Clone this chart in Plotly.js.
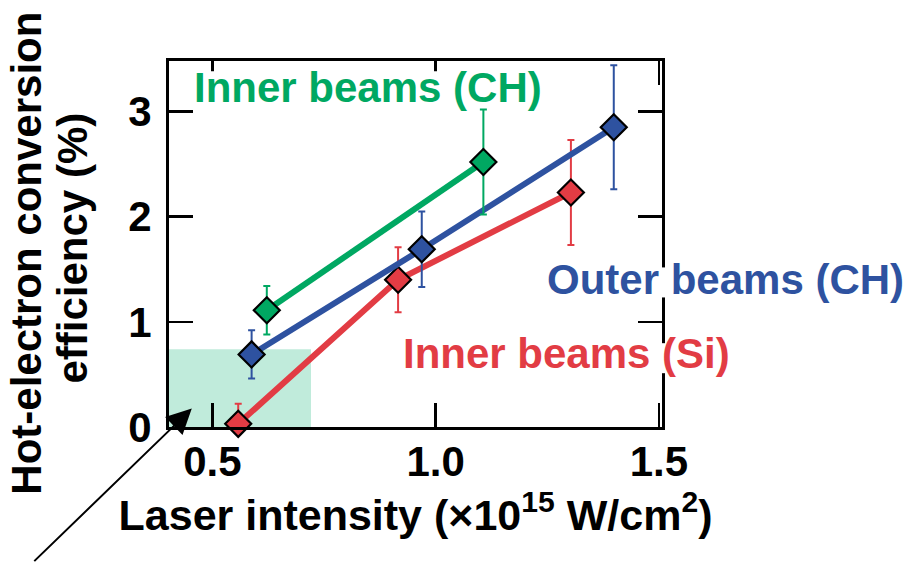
<!DOCTYPE html>
<html>
<head>
<meta charset="utf-8">
<script src="https://cdn.plot.ly/plotly-3.0.1.min.js"></script>
<style>html,body{margin:0;padding:0;background:#fff;}#chart{width:907px;height:564px;}</style>
</head>
<body>
<div id="chart"></div>
<script>
// Data
const innerCH_x = [0.622, 1.107];
const innerCH_y = [1.11, 2.52];
const innerCH_err = [0.23, 0.50];

const outerCH_x = [0.588, 0.969, 1.399];
const outerCH_y = [0.69, 1.69, 2.85];
const outerCH_err = [0.23, 0.36, 0.59];

const innerSi_x = [0.558, 0.916, 1.303];
const innerSi_y = [0.03, 1.40, 2.23];
const innerSi_err = [0.19, 0.31, 0.50];

const xTicks = [0.5, 1.0, 1.5];
const xTickText = ['0.5', '1.0', '1.5'];
const yTicks = [0, 1, 2, 3];
const yTickText = ['0', '1', '2', '3'];

const seriesNames = ['Inner beams (Si)', 'Outer beams (CH)', 'Inner beams (CH)'];

const RED = '#e23c44', BLUE = '#2e52a0', GREEN = '#00a862';
const FONT = 'Liberation Sans, Arial, Helvetica, sans-serif';

function trace(x, y, err, color, name) {
  return {
    x: x, y: y, name: name, type: 'scatter', mode: 'lines+markers',
    line: {color: color, width: 6},
    marker: {symbol: 'diamond', size: 20, color: color, line: {color: '#000', width: 2.2}},
    error_y: {type: 'data', array: err, visible: true, color: color, thickness: 2, width: 3.5},
    cliponaxis: false, showlegend: false
  };
}

const data = [
  trace(innerSi_x, innerSi_y, innerSi_err, RED, seriesNames[0]),
  trace(outerCH_x, outerCH_y, outerCH_err, BLUE, seriesNames[1]),
  trace(innerCH_x, innerCH_y, innerCH_err, GREEN, seriesNames[2])
];

const axisCommon = {
  ticks: 'inside', ticklen: 24, tickwidth: 2.5, tickcolor: '#000',
  showline: true, linewidth: 3, linecolor: '#000', mirror: 'ticks',
  showgrid: false, zeroline: false,
  tickfont: {family: FONT, size: 42, color: '#000', weight: 'bold'}
};

// white masks where the labels interrupt the frame / ticks
function mask(x0, x1, y0, y1) {
  return {type: 'rect', xref: 'paper', yref: 'paper', x0: x0, x1: x1, y0: y0, y1: y1,
          fillcolor: '#fff', line: {width: 0}, layer: 'above'};
}

const layout = {
  width: 907, height: 564,
  margin: {l: 169, r: 245, t: 61, b: 137, pad: 0},
  paper_bgcolor: '#fff', plot_bgcolor: '#fff',
  font: {family: FONT, color: '#000'},
  xaxis: Object.assign({}, axisCommon, {
    range: [0.403, 1.507], tickvals: xTicks, ticktext: xTickText,
    ticklabelstandoff: -4,
    title: {text: 'Laser intensity (×10<sup>15</sup> W/cm<sup>2</sup>)', standoff: 8,
            font: {family: FONT, size: 43, color: '#000', weight: 'bold'}}
  }),
  yaxis: Object.assign({}, axisCommon, {
    range: [0, 3.48], tickvals: yTicks, ticktext: yTickText,
    ticklabelstandoff: 6
  }),
  shapes: [
    {type: 'rect', xref: 'x', yref: 'y', x0: 0.40, x1: 0.721, y0: 0, y1: 0.74,
     fillcolor: '#c0ebdb', line: {width: 0}, layer: 'below'},
    mask(0.99, 1.01, 0.354, 0.436),
    mask(0.99, 1.01, 0.147, 0.229),
    mask(0.079, 0.095, 0.925, 0.972),
    mask(0.533, 0.549, 0.925, 0.972)
  ],
  annotations: [
    {text: 'Inner beams (CH)', x: 0.8485, y: 3.23, xref: 'x', yref: 'y', showarrow: false,
     xanchor: 'center', yanchor: 'middle',
     font: {family: FONT, size: 42, color: GREEN, weight: 'bold'}},
    {text: 'Outer beams (CH)', x: 1.128, y: 0.404, xref: 'paper', yref: 'paper', showarrow: false,
     xanchor: 'center', yanchor: 'middle',
     font: {family: FONT, size: 42, color: BLUE, weight: 'bold'}},
    {text: 'Inner beams (Si)', x: 1.294, y: 0.70, xref: 'x', yref: 'y', showarrow: false,
     xanchor: 'center', yanchor: 'middle',
     font: {family: FONT, size: 42, color: RED, weight: 'bold'}},
    {text: 'Hot-electron conversion', x: -0.289, y: 0.475, xref: 'paper', yref: 'paper',
     showarrow: false, textangle: -90, xanchor: 'center', yanchor: 'middle',
     font: {family: FONT, size: 42, color: '#000', weight: 'bold'}},
    {text: 'efficiency (%)', x: -0.195, y: 0.49, xref: 'paper', yref: 'paper',
     showarrow: false, textangle: -90, xanchor: 'center', yanchor: 'middle',
     font: {family: FONT, size: 42, color: '#000', weight: 'bold'}},
    {text: '', x: 0.454, y: 0.175, xref: 'x', yref: 'y', showarrow: true,
     ax: -159, ay: 154, axref: 'pixel', ayref: 'pixel',
     arrowhead: 2, arrowsize: 2.5, arrowwidth: 2, arrowcolor: '#000'}
  ]
};

Plotly.newPlot('chart', data, layout, {staticPlot: true, displayModeBar: false});
</script>
</body>
</html>
